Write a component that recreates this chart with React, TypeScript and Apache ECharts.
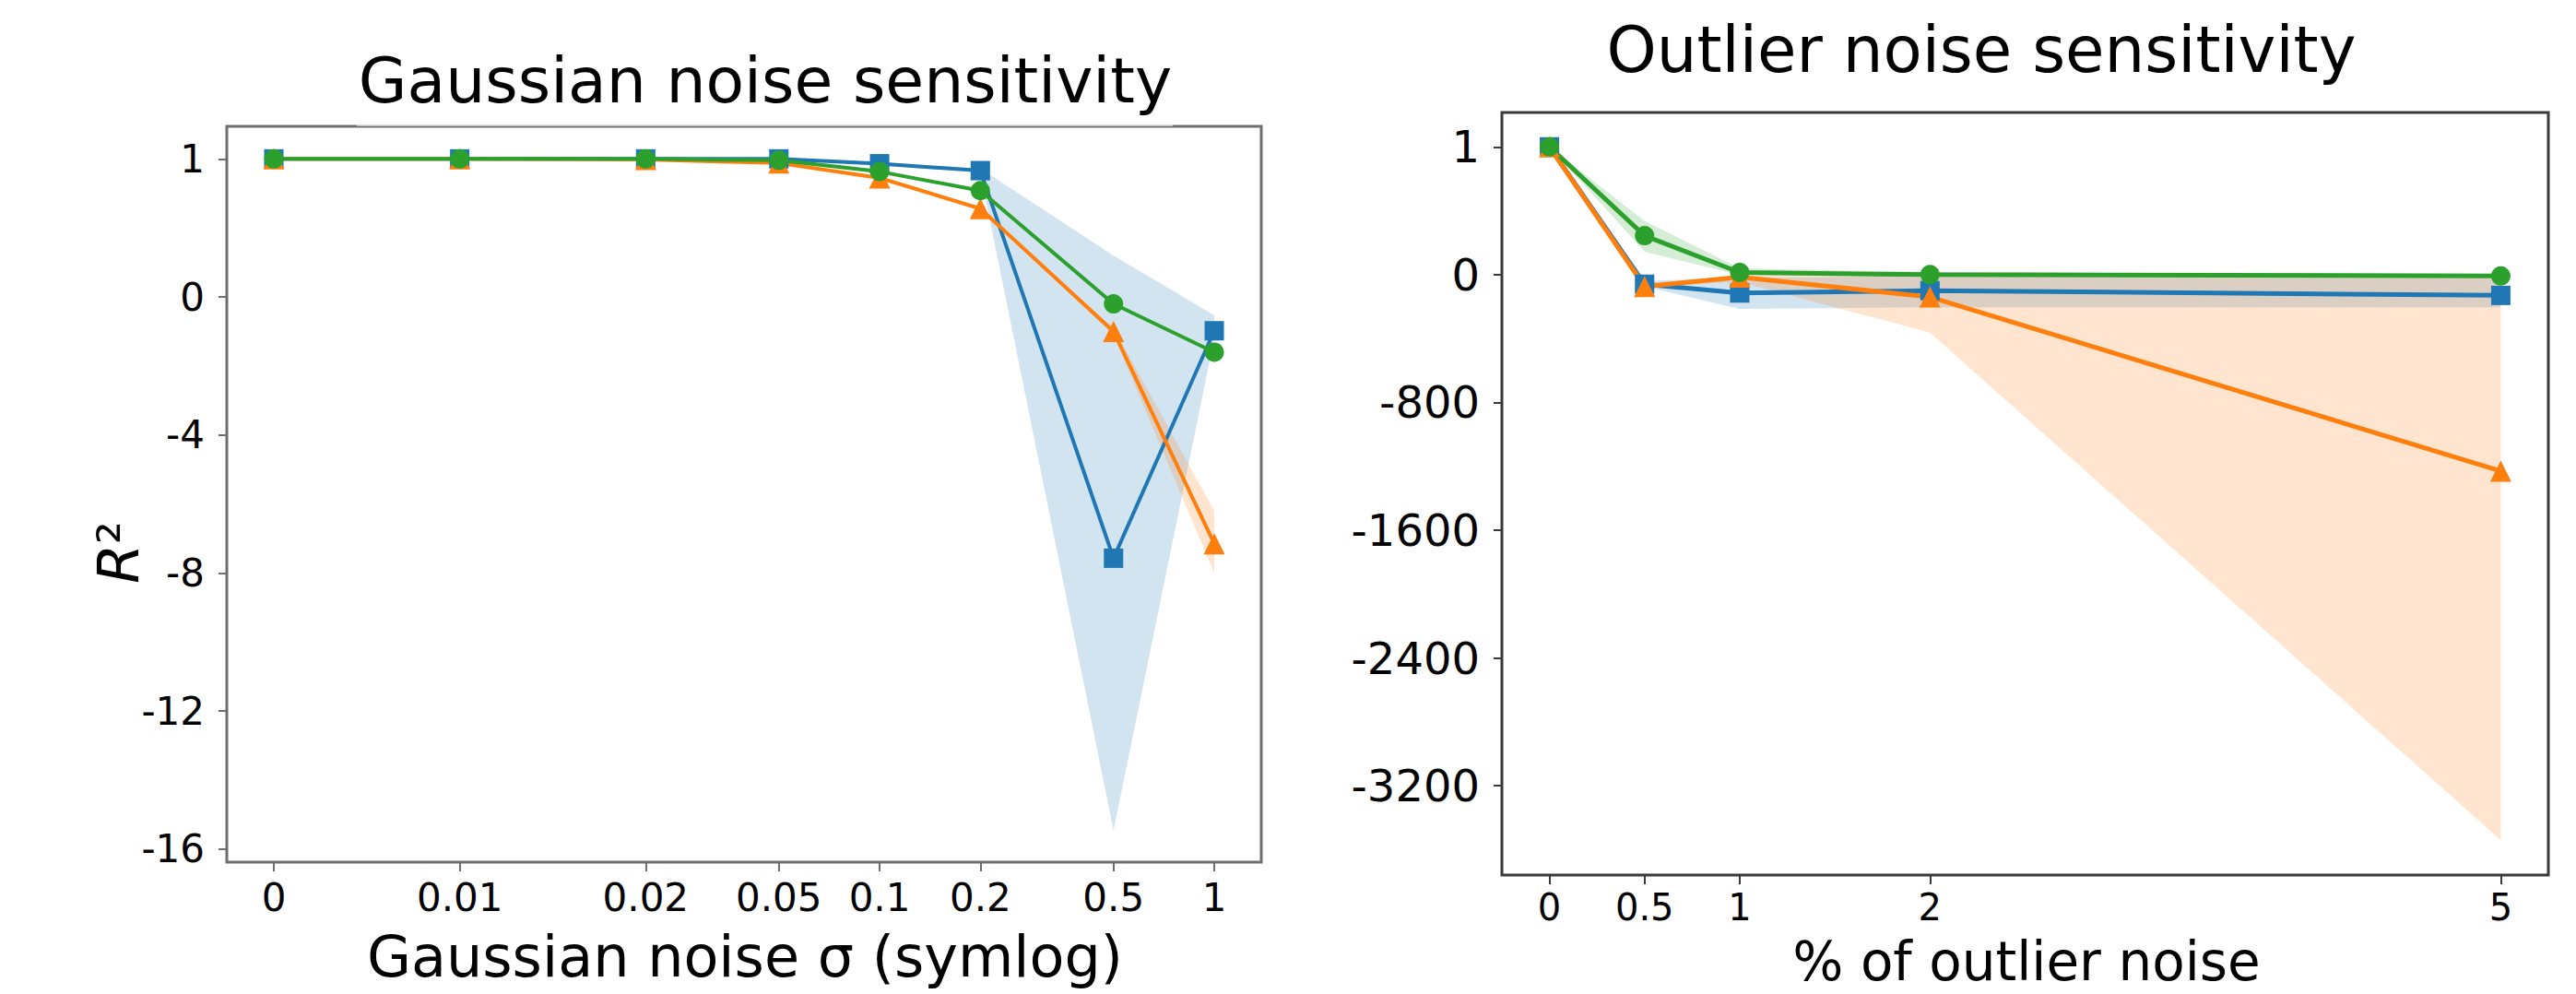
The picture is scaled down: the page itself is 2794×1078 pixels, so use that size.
import React, { useEffect, useRef } from "react";
import * as echarts from "echarts";

// ---------- data: Gaussian noise sensitivity (left) ----------
const LEFT_X = [0, 0.01, 0.02, 0.05, 0.1, 0.2, 0.5, 1];
const LEFT_X_LABELS = ["0", "0.01", "0.02", "0.05", "0.1", "0.2", "0.5", "1"];
const LEFT_Y_TICKS = [1, 0, -4, -8, -12, -16];
const LEFT_BLUE = [1, 1, 1, 1, 0.965, 0.915, -7.57, -0.98];
const LEFT_ORANGE = [1, 1, 0.995, 0.97, 0.862, 0.64, -1.0, -7.15];
const LEFT_GREEN = [1, 1, 1, 0.99, 0.908, 0.77, -0.2, -1.6];
const LEFT_BLUE_UPPER = [1, 1, 1, 1, 0.975, 0.93, 0.3, -0.53];
const LEFT_BLUE_LOWER = [1, 1, 1, 1, 0.955, 0.9, -15.45, -1.2];
const LEFT_ORANGE_UPPER = [1, 1, 0.995, 0.97, 0.862, 0.64, -0.9, -6.2];
const LEFT_ORANGE_LOWER = [1, 1, 0.995, 0.97, 0.862, 0.64, -1.1, -8.0];

// ---------- data: Outlier noise sensitivity (right) ----------
const RIGHT_X = [0, 0.5, 1, 2, 5];
const RIGHT_X_LABELS = ["0", "0.5", "1", "2", "5"];
const RIGHT_Y_TICKS = [1, 0, -800, -1600, -2400, -3200];
const RIGHT_BLUE = [1, -60, -115, -100, -130];
const RIGHT_ORANGE = [1, -75, -15, -140, -1230];
const RIGHT_GREEN = [1, 0.305, 0.017, 0.0, -8];
const RIGHT_BLUE_UPPER = [1, -40, -20, -10, -10];
const RIGHT_BLUE_LOWER = [1, -75, -215, -205, -205];
const RIGHT_ORANGE_UPPER = [1, -55, -5, -5, -5];
const RIGHT_ORANGE_LOWER = [1, -75, -45, -363, -3540];
const RIGHT_GREEN_UPPER = [1, 0.42, 0.05, 0.02, 0.0];
const RIGHT_GREEN_LOWER = [1, 0.18, -3, -10, -16];

const BLUE = "#1f77b4";
const ORANGE = "#ff7f0e";
const GREEN = "#2ca02c";
const FONT = "DejaVu Sans";

// symlog x scale (linthresh 0.02, linscale 1)
const LINTHRESH = 0.02;
const LINSPAN = 1 / (1 - 1 / 10);
const symlog = (x: number) =>
  x <= LINTHRESH ? (x / LINTHRESH) * LINSPAN : LINSPAN + Math.log10(x / LINTHRESH);
// piecewise y scales: [0,1] linear, negatives compressed
const leftY = (v: number) => (v >= 0 ? v : v / 4);
const rightY = (v: number) => (v >= 0 ? v : v / 800);
const leftYInv = (t: number) => (t >= 0 ? t : t * 4);
const rightYInv = (t: number) => (t >= 0 ? t : t * 800);

const nearestLabel = (positions: number[], labels: string[], v: number) => {
  let best = 0;
  for (let i = 1; i < positions.length; i++) {
    if (Math.abs(positions[i] - v) < Math.abs(positions[best] - v)) best = i;
  }
  return labels[best];
};

function band(
  xs: number[],
  upper: number[],
  lower: number[],
  tx: (x: number) => number,
  ty: (v: number) => number,
  color: string,
  axisIndex: number
) {
  return {
    type: "custom",
    xAxisIndex: axisIndex,
    yAxisIndex: axisIndex,
    silent: true,
    clip: true,
    data: [[tx(xs[0]), ty(upper[0])]],
    encode: { x: 0, y: 1 },
    renderItem: (_params: any, api: any) => {
      const pts: number[][] = [];
      for (let i = 0; i < xs.length; i++) pts.push(api.coord([tx(xs[i]), ty(upper[i])]));
      for (let i = xs.length - 1; i >= 0; i--) pts.push(api.coord([tx(xs[i]), ty(lower[i])]));
      return { type: "polygon", shape: { points: pts }, style: { fill: color, stroke: "none" } };
    },
  };
}

function line(
  xs: number[],
  ys: number[],
  tx: (x: number) => number,
  ty: (v: number) => number,
  color: string,
  symbol: string,
  size: number,
  width: number,
  axisIndex: number
) {
  return {
    type: "line",
    xAxisIndex: axisIndex,
    yAxisIndex: axisIndex,
    data: xs.map((x, i) => [tx(x), ty(ys[i])]),
    symbol,
    symbolSize: size,
    showSymbol: true,
    itemStyle: { color, opacity: 1 },
    lineStyle: { color, width },
    silent: true,
  };
}

export default function App() {
  const ref = useRef<HTMLDivElement>(null);
  useEffect(() => {
    if (!ref.current) return;
    const chart = echarts.init(ref.current, undefined, { renderer: "svg" });

    const leftXTicks = LEFT_X.map(symlog);
    const leftYTicks = LEFT_Y_TICKS.map(leftY);
    const rightYTicks = RIGHT_Y_TICKS.map(rightY);
    const leftCol = "#6e6e6e";
    const rightCol = "#3a3a3a";

    const noLine = { show: false, onZero: false };

    const option: any = {
      animation: false,
      backgroundColor: "#ffffff",
      grid: [
        { left: 246, top: 137, width: 1122, height: 798, show: true, borderColor: leftCol, borderWidth: 3, backgroundColor: "transparent" },
        { left: 1629, top: 122, width: 1135, height: 827, show: true, borderColor: rightCol, borderWidth: 3, backgroundColor: "transparent" },
      ],
      xAxis: [
        {
          type: "value",
          gridIndex: 0,
          position: "bottom",
          min: -0.1405,
          max: 2.9505,
          axisLine: noLine,
          splitLine: { show: false },
          axisTick: { show: true, inside: false, length: 10, lineStyle: { color: leftCol, width: 2 }, customValues: leftXTicks },
          axisLabel: {
            show: true,
            customValues: leftXTicks,
            formatter: (v: number) => nearestLabel(leftXTicks, LEFT_X_LABELS, v),
            fontSize: 42,
            fontFamily: FONT,
            color: "#000",
            margin: 17,
          },
        },
        {
          type: "value",
          gridIndex: 1,
          position: "bottom",
          min: -0.25,
          max: 5.25,
          axisLine: noLine,
          splitLine: { show: false },
          axisTick: { show: true, inside: false, length: 10, lineStyle: { color: rightCol, width: 2 }, customValues: RIGHT_X },
          axisLabel: {
            show: true,
            customValues: RIGHT_X,
            formatter: (v: number) => nearestLabel(RIGHT_X, RIGHT_X_LABELS, v),
            fontSize: 40,
            fontFamily: FONT,
            color: "#000",
            margin: 15,
          },
        },
      ],
      yAxis: [
        {
          type: "value",
          gridIndex: 0,
          position: "left",
          min: -4.094,
          max: 1.236,
          axisLine: noLine,
          splitLine: { show: false },
          axisTick: { show: true, inside: false, length: 9, lineStyle: { color: leftCol, width: 2 }, customValues: leftYTicks },
          axisLabel: {
            show: true,
            customValues: leftYTicks,
            formatter: (v: number) => String(Math.round(leftYInv(v))),
            fontSize: 42,
            fontFamily: FONT,
            color: "#000",
            margin: 24,
          },
        },
        {
          type: "value",
          gridIndex: 1,
          position: "left",
          min: -4.699,
          max: 1.269,
          axisLine: noLine,
          splitLine: { show: false },
          axisTick: { show: true, inside: false, length: 9, lineStyle: { color: rightCol, width: 2 }, customValues: rightYTicks },
          axisLabel: {
            show: true,
            customValues: rightYTicks,
            formatter: (v: number) => String(Math.round(rightYInv(v))),
            fontSize: 48,
            fontFamily: FONT,
            color: "#000",
            margin: 24,
          },
        },
      ],
      series: [
        band(LEFT_X, LEFT_BLUE_UPPER, LEFT_BLUE_LOWER, symlog, leftY, "rgba(31,119,180,0.2)", 0),
        band(LEFT_X, LEFT_ORANGE_UPPER, LEFT_ORANGE_LOWER, symlog, leftY, "rgba(255,127,14,0.2)", 0),
        line(LEFT_X, LEFT_BLUE, symlog, leftY, BLUE, "rect", 21, 4, 0),
        line(LEFT_X, LEFT_ORANGE, symlog, leftY, ORANGE, "triangle", 23, 4, 0),
        line(LEFT_X, LEFT_GREEN, symlog, leftY, GREEN, "circle", 21, 4, 0),
        band(RIGHT_X, RIGHT_BLUE_UPPER, RIGHT_BLUE_LOWER, (x) => x, rightY, "rgba(31,119,180,0.2)", 1),
        band(RIGHT_X, RIGHT_ORANGE_UPPER, RIGHT_ORANGE_LOWER, (x) => x, rightY, "rgba(255,127,14,0.2)", 1),
        band(RIGHT_X, RIGHT_GREEN_UPPER, RIGHT_GREEN_LOWER, (x) => x, rightY, "rgba(44,160,44,0.2)", 1),
        line(RIGHT_X, RIGHT_BLUE, (x) => x, rightY, BLUE, "rect", 21, 5, 1),
        line(RIGHT_X, RIGHT_ORANGE, (x) => x, rightY, ORANGE, "triangle", 23, 5, 1),
        line(RIGHT_X, RIGHT_GREEN, (x) => x, rightY, GREEN, "circle", 21, 5, 1),
      ],
      graphic: [
        { type: "rect", shape: { x: 387, y: 133, width: 885, height: 4 }, style: { fill: "rgba(255,255,255,0.55)" }, z: 100 },
        {
          type: "text", x: 830, y: 87,
          style: { text: "Gaussian noise sensitivity", fontSize: 68, fontFamily: FONT, fill: "#000", align: "center", verticalAlign: "middle", textAlign: "center", textVerticalAlign: "middle" },
        },
        {
          type: "text", x: 2149, y: 54,
          style: { text: "Outlier noise sensitivity", fontSize: 69, fontFamily: FONT, fill: "#000", align: "center", verticalAlign: "middle", textAlign: "center", textVerticalAlign: "middle" },
        },
        {
          type: "text", x: 808, y: 1037,
          style: { text: "Gaussian noise σ (symlog)", fontSize: 62, fontFamily: FONT, fill: "#000", align: "center", verticalAlign: "middle", textAlign: "center", textVerticalAlign: "middle" },
        },
        {
          type: "text", x: 2198, y: 1043,
          style: { text: "% of outlier noise", fontSize: 58, fontFamily: FONT, fill: "#000", align: "center", verticalAlign: "middle", textAlign: "center", textVerticalAlign: "middle" },
        },
        {
          type: "text", x: 128, y: 599, rotation: Math.PI / 2,
          style: {
            text: "{i|R}{n|²}",
            fill: "#000",
            align: "center", verticalAlign: "middle", textAlign: "center", textVerticalAlign: "middle",
            rich: {
              i: { fontSize: 62, fontFamily: FONT, fontStyle: "italic", fill: "#000" },
              n: { fontSize: 62, fontFamily: FONT, fill: "#000" },
            },
          },
        },
      ],
    };
    chart.setOption(option);
    return () => chart.dispose();
  }, []);
  return (
    <div
      ref={ref}
      style={{ position: "absolute", left: 0, top: 0, width: 2794, height: 1078, background: "#fff" }}
    />
  );
}
